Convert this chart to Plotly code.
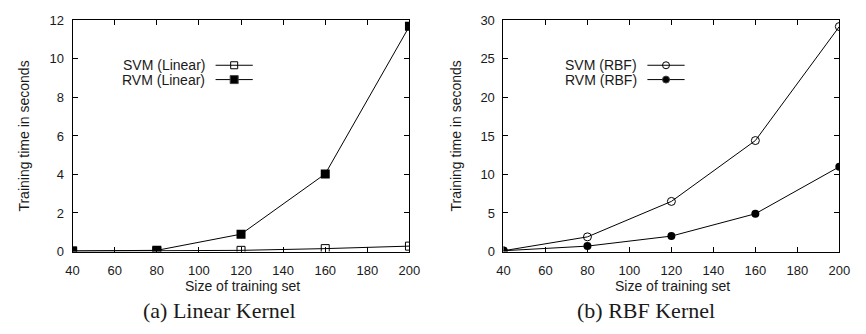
import plotly.graph_objects as go

sizes = [40, 80, 120, 160, 200]
svm_linear = [0.02, 0.03, 0.06, 0.15, 0.28]
rvm_linear = [0.03, 0.06, 0.90, 4.03, 11.70]
svm_rbf = [0.10, 1.90, 6.50, 14.40, 29.20]
rvm_rbf = [0.10, 0.70, 2.00, 4.90, 11.00]

W, H = 866, 334
L1, R1 = 67, 411
L2, R2 = 507, 850
TOP, BOT = 14, 256

def px(x):
    return x / W

def py(y):
    return 1 - y / H

FONT = "Liberation Sans, Arial, sans-serif"
tickfont = dict(family=FONT, size=13, color="#1a1a1a")
legfont = dict(family=FONT, size=14, color="#1a1a1a")
labfont = dict(family=FONT, size=14, color="#1a1a1a")
capfont = dict(family="Liberation Serif, Times New Roman, serif", size=22, color="#1a1a1a")
line = dict(color="black", width=1)

fig = go.Figure()

# Linear kernel (drawn on the labelled axes x/y)
fig.add_trace(go.Scatter(x=sizes, y=svm_linear, mode="lines+markers", xaxis="x", yaxis="y",
                         line=line, marker=dict(symbol="square-open", size=8, color="black", line=dict(width=1))))
fig.add_trace(go.Scatter(x=sizes, y=rvm_linear, mode="lines+markers", xaxis="x", yaxis="y",
                         line=line, marker=dict(symbol="square", size=9, color="black")))
# RBF kernel
fig.add_trace(go.Scatter(x=sizes, y=svm_rbf, mode="lines+markers", xaxis="x2", yaxis="y2",
                         line=line, marker=dict(symbol="circle-open", size=8, color="black", line=dict(width=1))))
fig.add_trace(go.Scatter(x=sizes, y=rvm_rbf, mode="lines+markers", xaxis="x2", yaxis="y2",
                         line=line, marker=dict(symbol="circle", size=8, color="black")))

# Invisible traces so that the frame axes (inside ticks) are drawn
fig.add_trace(go.Scatter(x=sizes, y=rvm_linear, mode="markers", xaxis="x4", yaxis="y4",
                         marker=dict(opacity=0), hoverinfo="skip"))
fig.add_trace(go.Scatter(x=sizes, y=svm_rbf, mode="markers", xaxis="x5", yaxis="y5",
                         marker=dict(opacity=0), hoverinfo="skip"))

# Legend keys on a full-figure pixel axis
keys = [
    (213, 251, 61, "square-open", 7),
    (213, 251, 76, "square", 8),
    (654, 692, 61, "circle-open", 7),
    (654, 692, 76, "circle", 7),
]
for x0, x1, yk, sym, sz in keys:
    fig.add_trace(go.Scatter(x=[x0, x1], y=[yk, yk], mode="lines", xaxis="x3", yaxis="y3",
                             line=line, hoverinfo="skip"))
    fig.add_trace(go.Scatter(x=[(x0 + x1) / 2], y=[yk], mode="markers", xaxis="x3", yaxis="y3",
                             marker=dict(symbol=sym, size=sz, color="black", line=dict(width=1)),
                             hoverinfo="skip"))

# Label axes: invisible outside ticks push the labels away from the frame
labels = dict(showline=False, ticks="outside", tickcolor="rgba(0,0,0,0)", showgrid=False,
              zeroline=False, tickfont=tickfont)
# Frame axes: box with inside ticks on all four sides, no labels
frame = dict(showline=True, linecolor="black", linewidth=1, mirror="ticks",
             ticks="inside", ticklen=5, tickcolor="black", showgrid=False,
             zeroline=False, showticklabels=False)

fig.update_layout(
    width=W, height=H, margin=dict(l=0, r=0, t=0, b=0),
    paper_bgcolor="white", plot_bgcolor="rgba(0,0,0,0)", showlegend=False,
    xaxis=dict(domain=[px(L1), px(R1)], range=[40, 200], dtick=20, tick0=40, anchor="y",
               ticklen=7, **labels),
    yaxis=dict(domain=[py(BOT), py(TOP)], range=[0, 12], dtick=2, anchor="x",
               ticklen=5, **labels),
    xaxis2=dict(domain=[px(L2), px(R2)], range=[40, 200], dtick=20, tick0=40, anchor="y2",
                ticklen=7, **labels),
    yaxis2=dict(domain=[py(BOT), py(TOP)], range=[0, 30], dtick=5, anchor="x2",
                ticklen=5, **labels),
    xaxis4=dict(overlaying="x", anchor="y4", range=[40, 200], dtick=20, tick0=40, **frame),
    yaxis4=dict(overlaying="y", anchor="x4", range=[0, 12], dtick=2, **frame),
    xaxis5=dict(overlaying="x2", anchor="y5", range=[40, 200], dtick=20, tick0=40, **frame),
    yaxis5=dict(overlaying="y2", anchor="x5", range=[0, 30], dtick=5, **frame),
    xaxis3=dict(domain=[0, 1], range=[0, W], visible=False, anchor="y3"),
    yaxis3=dict(domain=[0, 1], range=[H, 0], visible=False, anchor="x3"),
)

ann = [
    dict(text="SVM (Linear)", x=px(204), y=py(61), xanchor="right", font=legfont),
    dict(text="RVM (Linear)", x=px(204), y=py(76), xanchor="right", font=legfont),
    dict(text="SVM (RBF)", x=px(645), y=py(61), xanchor="right", font=legfont),
    dict(text="RVM (RBF)", x=px(645), y=py(76), xanchor="right", font=legfont),
    dict(text="Size of training set", x=px((L1 + R1) / 2 + 1), y=py(292), font=labfont),
    dict(text="Size of training set", x=px((L2 + R2) / 2 + 1), y=py(292), font=labfont),
    dict(text="Training time in seconds", x=px(17), y=py((TOP + BOT) / 2), textangle=-90, font=labfont),
    dict(text="Training time in seconds", x=px(458), y=py((TOP + BOT) / 2), textangle=-90, font=labfont),
    dict(text="(a) Linear Kernel", x=px(217), y=py(318), font=capfont),
    dict(text="(b) RBF Kernel", x=px(653), y=py(318), font=capfont),
]
for a in ann:
    a.update(xref="paper", yref="paper", showarrow=False, yanchor="middle")
    a.setdefault("xanchor", "center")
fig.update_layout(annotations=ann)

fig.write_html("out.html")
